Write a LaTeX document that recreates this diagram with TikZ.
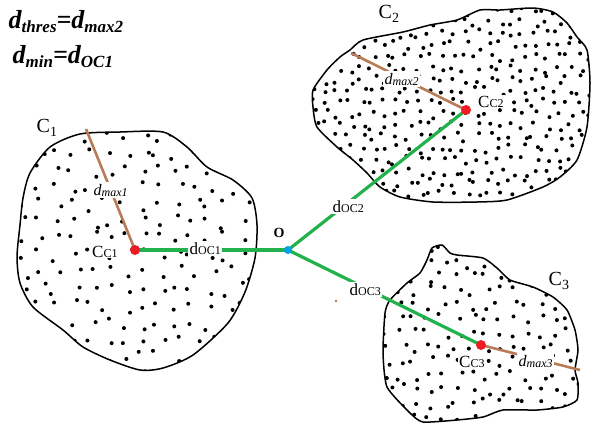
\documentclass[tikz,border=0pt]{standalone}
\usepackage{fontspec}
\setmainfont{Liberation Serif}
\definecolor{pgreen}{HTML}{22B14C}
\definecolor{pbrown}{HTML}{B97A57}
\definecolor{pred}{HTML}{ED1C24}
\definecolor{pblue}{HTML}{00A2E8}
\newcommand\fs[1]{\fontsize{#1}{#1}\selectfont}
\newcommand\shapeA[1]{\path[#1] plot[smooth cycle, tension=0.45] coordinates {(80,134) (120,132) (163,132) (187,147) (207,167) (233,180) (252,198) (257,225) (255,258) (245,292) (228,323) (193,355) (163,368) (140,370) (110,360) (83,347) (63,330) (33,307) (20,283) (17,257) (20,225) (23,198) (30,173) (50,147)};}
\newcommand\shapeB[1]{\path[#1] plot[smooth cycle, tension=0.4] coordinates {(350,50) (363,40) (403,32) (430,25) (457,20) (480,10) (500,10) (533,8) (553,12) (567,23) (577,37) (587,50) (590,83) (587,127) (577,160) (560,177) (543,187) (507,200) (477,202) (433,202) (400,197) (380,187) (367,173) (353,160) (337,147) (317,127) (313,107) (313,90) (327,70) (340,57)};}
\newcommand\shapeC[1]{\path[#1] plot[smooth cycle, tension=0.35] coordinates {(432,248) (442,245) (450,253) (457,255) (483,258) (497,268) (510,280) (533,287) (553,297) (567,310) (575,330) (578,350) (575,370) (578,383) (577,400) (563,407) (537,410) (503,410) (483,417) (457,420) (423,422) (410,413) (387,387) (383,353) (385,313) (390,300) (407,283) (420,273) (427,260)};}
\newcommand\scatterdots[5]{%
  \foreach \i in {0,...,#3}{\foreach \j in {0,...,#4}{%
    \pgfmathsetmacro\xx{#1+(\i+0.1+0.8*rnd)*#5}%
    \pgfmathsetmacro\yy{#2+(\j+0.1+0.8*rnd)*#5}%
    \fill (\xx,\yy) circle (2pt);}}}
\pgfdeclarelayer{bg}
\pgfsetlayers{bg,main}
\begin{document}
\begin{tikzpicture}[x=1pt,y=-1pt,
  gline/.style={draw=pgreen, line width=3.2pt},
  bline/.style={draw=pbrown, line width=2.6pt},
  outline/.style={draw=black, line width=1.5pt},
  rdot/.style={circle, fill=pred, minimum size=10pt, inner sep=0pt},
  bdot/.style={circle, fill=pblue, minimum size=8pt, inner sep=0pt},
  lab/.style={anchor=base west, inner sep=0.5pt},
  clab/.style={anchor=base west, fill=white, inner sep=1pt},
  onl/.style={anchor=base west, fill=white, inner sep=1.5pt}]
\useasboundingbox (0,0) rectangle (591,426);
% text
\node[lab] (t1) at (8,28) {\fs{26}\bfseries\itshape d\raisebox{-4pt}{\fs{17}thres}=d\raisebox{-4pt}{\fs{17}max2}};
\node[lab] (t2) at (12,63) {\fs{26}\bfseries\itshape d\raisebox{-4pt}{\fs{17}min}=d\raisebox{-4pt}{\fs{17}OC1}};
\node[lab] (c1) at (36,132) {\fs{20}C\raisebox{-4pt}{\fs{14}1}};
\node[lab] (c2) at (378,18) {\fs{20}C\raisebox{-4pt}{\fs{14}2}};
\node[lab] (c3) at (548,285) {\fs{20}C\raisebox{-4pt}{\fs{14}3}};
% centers
\node[rdot] (cc1) at (135,250) {};
\node[rdot] (cc2) at (466,110) {};
\node[rdot] (cc3) at (481,345) {};
\node[bdot] (o) at (288,250) {};
\coordinate (m1) at (86,129);
\coordinate (m2) at (351,53);
\coordinate (m3) at (580,370);
% labels
\node[clab] (lc1) at (91,257) {\fs{17}C\fs{12}C1};
\node[clab] (lc2) at (477,107) {\fs{17}C\fs{12}C2};
\node[clab] (lc3) at (458,367) {\fs{17}C\fs{12}C3};
\node[lab] (lo) at (273,237) {\fs{14}\bfseries O};
\node[onl] (d1) at (188,254) {\fs{17}d\fs{12}OC1};
\node[onl] (d2) at (331,212) {\fs{17}d\fs{12}OC2};
\node[onl] (d3) at (348,295) {\fs{17}d\fs{12}OC3};
\node[onl] (x1) at (92,195) {\fs{16}\itshape d\raisebox{-1.5pt}{\fs{12}max1}};
\node[onl] (x2) at (383,84) {\fs{16}\itshape d\raisebox{-1.5pt}{\fs{12}max2}};
\node[onl] (x3) at (517,366) {\fs{16}\itshape d\raisebox{-1.5pt}{\fs{12}max3}};
\begin{pgfonlayer}{bg}
  \pgfmathsetseed{11}
  \begin{scope}\shapeA{clip}\scatterdots{15}{128}{14}{14}{17}\end{scope}
  \begin{scope}\shapeB{clip}\scatterdots{310}{5}{24}{17}{11.5}\end{scope}
  \begin{scope}\shapeC{clip}\scatterdots{380}{242}{14}{13}{14}\end{scope}
  \shapeA{outline}
  \shapeB{outline}
  \shapeC{outline}
  \draw[gline] (cc1.center) -- (o.center);
  \draw[gline] (o.center) -- (cc2.center);
  \draw[gline] (o.center) -- (cc3.center);
  \draw[bline] (m1) -- (cc1.center);
  \draw[bline] (m2) -- (cc2.center);
  \draw[bline] (cc3.center) -- (m3);
  \fill[pbrown] (336,301) circle (1.3pt);
\end{pgfonlayer}
\end{tikzpicture}
\end{document}
